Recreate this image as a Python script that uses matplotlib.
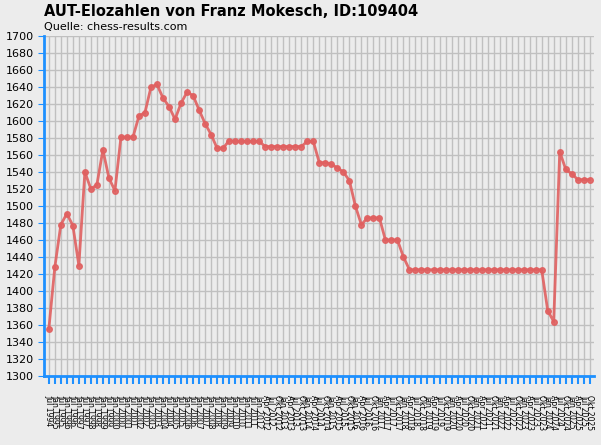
import matplotlib
matplotlib.use("Agg")
import matplotlib.pyplot as plt

elo = [1355,1428,1478,1491,1477,1430,1540,1520,1525,1566,1533,1518,1581,1581,1581,1606,1610,1640,1643,1627,
       1617,1602,1621,1634,1630,1613,1597,1584,1568,1568,1577,1576,1576,1576,1576,1576,1570,1570,1570,1570,
       1570,1570,1570,1576,1576,1551,1551,1549,1545,1540,1530,1500,1478,1486,1486,1486,1460,1460,1460,1440]
elo += [1425]*23
elo += [1377,1364,1564,1543,1538,1531,1531,1531]

months_de = {0.0: "Jan", 0.25: "Apr", 0.5: "Jul", 0.75: "Okt"}
semi_years = [1994.5 + 0.5*i for i in range(35)]
quart_years = [2012.0 + 0.25*i for i in range(56)]
labels = [f"{months_de[t % 1]} {int(t)}" for t in semi_years + quart_years]

bg = "#ececec"
fig = plt.figure(figsize=(6.01, 4.45), dpi=100, facecolor=bg)
ax = fig.add_axes([44/601, 1-376/445, 550/601, 340/445], facecolor=bg)
x = list(range(len(elo)))
ax.plot(x, elo, color="#e06060", lw=2, marker="o", ms=4, alpha=0.9, zorder=3)
ax.set_xlim(-0.8, len(elo)-0.3)
ax.set_ylim(1300, 1700)
ax.set_yticks(range(1300, 1701, 20))
ax.set_xticks(x)
ax.set_xticklabels(labels[:len(elo)], rotation=270, fontsize=5.5)
ax.tick_params(axis="y", labelsize=8, colors="#000000", length=4, color="#1e90ff")
ax.tick_params(axis="x", length=6, width=1.5, color="#1e90ff", pad=8)
ax.grid(True, color="#c0c0c0", lw=1)
for s in ["top", "right"]:
    ax.spines[s].set_visible(False)
ax.spines["left"].set_color("#1e90ff"); ax.spines["left"].set_linewidth(2)
ax.spines["bottom"].set_color("#1e90ff"); ax.spines["bottom"].set_linewidth(2)
fig.text(44/601, 1-12/445, "AUT-Elozahlen von Franz Mokesch, ID:109404", fontsize=10.5, fontweight="bold", va="center")
fig.text(44/601, 1-27/445, "Quelle: chess-results.com", fontsize=8, va="center")
fig.savefig("out.png", dpi=100, facecolor=bg)
